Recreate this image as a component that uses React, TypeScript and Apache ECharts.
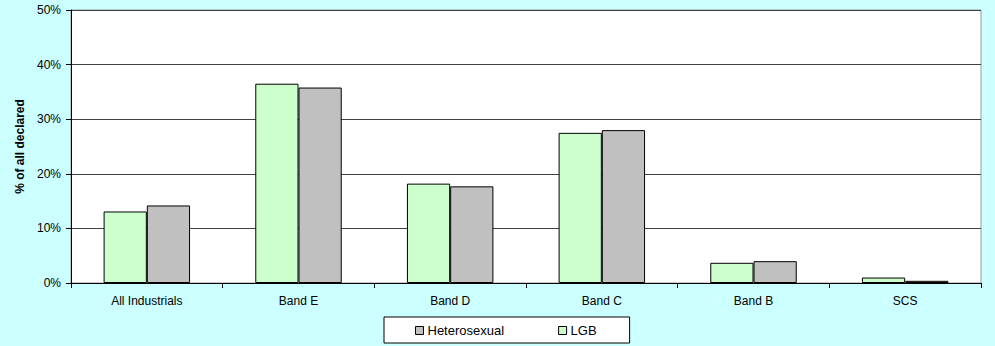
import React, { useEffect, useRef } from "react";
import * as echarts from "echarts";

const categories = ["All Industrials", "Band E", "Band D", "Band C", "Band B", "SCS"];
const lgbValues = [13.1, 36.5, 18.2, 27.5, 3.7, 1.0];
const heteroValues = [14.2, 35.8, 17.7, 28.0, 4.0, 0.4];
const seriesNames = ["LGB", "Heterosexual"];
const legendOrder = ["Heterosexual", "LGB"];
const yAxisTitle = "% of all declared";

const FONT = "'Liberation Sans', Arial, sans-serif";

export default function App() {
  const ref = useRef<HTMLDivElement>(null);

  useEffect(() => {
    if (!ref.current) return;
    const chart = echarts.init(ref.current, undefined, { renderer: "svg" });
    chart.setOption({
      animation: false,
      backgroundColor: "#CCFFFF",
      textStyle: { fontFamily: FONT, color: "#000" },
      grid: {
        left: 71,
        top: 10,
        right: 14,
        bottom: 63,
        show: true,
        backgroundColor: "#ffffff",
        borderColor: "#9a9a9a",
        borderWidth: 1,
      },
      legend: {
        data: legendOrder,
        left: 384,
        top: 317,
        orient: "horizontal",
        backgroundColor: "#ffffff",
        borderColor: "#000",
        borderWidth: 1,
        borderRadius: 0,
        padding: [7, 33, 6, 31],
        itemGap: 54,
        itemWidth: 8,
        itemHeight: 8,
        icon: "rect",
        textStyle: { fontFamily: FONT, fontSize: 13, color: "#000", padding: [0, 0, 0, -1] },
        itemStyle: { borderColor: "#000", borderWidth: 1 },
      },
      xAxis: {
        type: "category",
        data: categories,
        axisLine: { lineStyle: { color: "#000", width: 1 } },
        axisTick: { show: true, length: 5, lineStyle: { color: "#000" } },
        axisLabel: { fontFamily: FONT, fontSize: 12, color: "#000", margin: 12 },
      },
      yAxis: {
        type: "value",
        min: 0,
        max: 50,
        interval: 10,
        name: yAxisTitle,
        nameLocation: "middle",
        nameGap: 42,
        nameTextStyle: { fontFamily: FONT, fontSize: 12, fontWeight: "bold", color: "#000" },
        axisLine: { show: true, lineStyle: { color: "#000", width: 1 } },
        axisTick: { show: true, length: 5, lineStyle: { color: "#000" } },
        axisLabel: {
          fontFamily: FONT,
          fontSize: 12,
          color: "#000",
          margin: 10,
          formatter: "{value}%",
        },
        splitLine: { show: true, lineStyle: { color: "#404040", width: 1 } },
      },
      series: [
        {
          name: seriesNames[0],
          type: "bar",
          data: lgbValues,
          barGap: "0%",
          barCategoryGap: "43%",
          itemStyle: { color: "#CCFFCC", borderColor: "#000", borderWidth: 1 },
        },
        {
          name: seriesNames[1],
          type: "bar",
          data: heteroValues,
          barGap: "0%",
          barCategoryGap: "43%",
          itemStyle: { color: "#C0C0C0", borderColor: "#000", borderWidth: 1 },
        },
      ],
    });
    return () => chart.dispose();
  }, []);

  return (
    <div
      ref={ref}
      style={{ position: "fixed", left: 0, top: 0, width: 995, height: 346 }}
    />
  );
}
